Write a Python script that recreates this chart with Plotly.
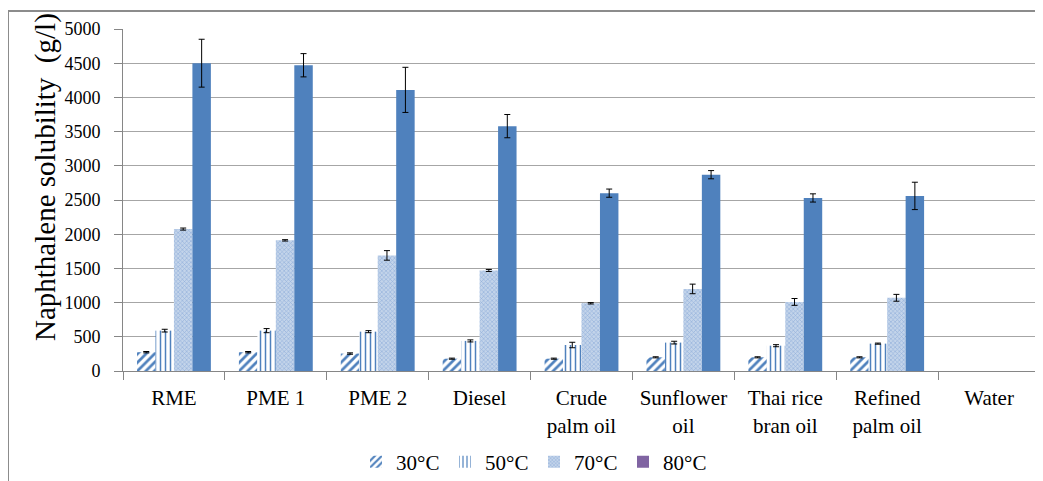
import plotly.graph_objects as go

categories = ["RME", "PME 1", "PME 2", "Diesel", "Crude<br>palm oil", "Sunflower<br>oil",
              "Thai rice<br>bran oil", "Refined<br>palm oil", "Water"]
series_names = ["30°C", "50°C", "70°C", "80°C"]
y_title = "Naphthalene solubility  (g/l)"

# Water: no visible bars in the reference (no data / zero)
s30 = [275, 275, 255, 180, 180, 200, 200, 200, None]
s50 = [590, 590, 575, 440, 380, 415, 370, 400, None]
s70 = [2075, 1910, 1690, 1470, 990, 1200, 1010, 1070, None]
s80 = [4500, 4470, 4110, 3580, 2600, 2870, 2530, 2560, None]

e30 = [10, 10, 10, 8, 8, 8, 8, 8, None]
e50 = [20, 30, 15, 15, 40, 20, 15, 8, None]
e70 = [15, 10, 70, 15, 10, 70, 50, 50, None]
e80 = [350, 170, 330, 170, 60, 60, 60, 200, None]

BLUE = "#4F81BD"
FONT = "Liberation Serif, Times New Roman, DejaVu Serif, serif"

fig = go.Figure()

def err(vals):
    return dict(type="data", array=vals, visible=True, color="black", thickness=1, width=3)

fig.add_trace(go.Bar(x=categories, y=s30, name=series_names[0], offsetgroup="g1",
                     error_y=err(e30),
                     marker=dict(color="white", line=dict(width=0),
                                 pattern=dict(shape="/", fgcolor=BLUE, bgcolor="white",
                                              size=6, solidity=0.45, fillmode="replace"))))
fig.add_trace(go.Bar(x=categories, y=s50, name=series_names[1], offsetgroup="g2",
                     error_y=err(e50),
                     marker=dict(color="white", line=dict(width=0),
                                 pattern=dict(shape="|", fgcolor=BLUE, bgcolor="white",
                                              size=5, solidity=0.3, fillmode="replace"))))
fig.add_trace(go.Bar(x=categories, y=s70, name=series_names[2], offsetgroup="g3",
                     error_y=err(e70),
                     marker=dict(color="#B9CDE5", line=dict(width=0),
                                 pattern=dict(shape="x", fgcolor="#8FAEDA", bgcolor="#C3D4EA",
                                              size=3, solidity=0.35, fillmode="replace"))))
fig.add_trace(go.Bar(x=categories, y=s80, name=series_names[3], offsetgroup="g4",
                     error_y=err(e80), showlegend=False,
                     marker=dict(color=BLUE, line=dict(width=0))))
# legend-only entry (legend swatch is purple in the reference)
fig.add_trace(go.Bar(x=[categories[0]], y=[None], name=series_names[3], offsetgroup="g4",
                     marker=dict(color="#8064A2", line=dict(width=0))))

OFF = 8  # page body margin
W, H = 1043, 481
L = 123 - OFF
T = 29 - OFF
R = W - (1040 - OFF)
B = H - (371 - OFF)
pw = W - L - R
ph = H - T - B

def px(x):
    return (x - OFF - L) / pw

def py(y):
    return (H - B - (y - OFF)) / ph

fig.update_layout(
    width=W, height=H,
    margin=dict(l=L, r=R, t=T, b=B, pad=0, autoexpand=False),
    paper_bgcolor="white", plot_bgcolor="white",
    barmode="group", bargap=0.275, bargroupgap=0,
    font=dict(family=FONT, color="black"),
    showlegend=True,
    legend=dict(orientation="h", x=px(534), xanchor="center", y=py(462), yanchor="middle",
                font=dict(family=FONT, size=21, color="black"), traceorder="normal",
                itemwidth=30, entrywidth=44, entrywidthmode="pixels",
                bgcolor="rgba(0,0,0,0)"),
    xaxis=dict(type="category", tickson="boundaries", ticks="outside", ticklen=8,
               tickcolor="#868686", showline=True, linecolor="#868686", linewidth=1,
               showgrid=False, ticklabelstandoff=8, automargin=False,
               tickfont=dict(family=FONT, size=21, color="black")),
    yaxis=dict(range=[0, 5000], dtick=500, ticks="outside", ticklen=8, tickcolor="#868686",
               showline=True, linecolor="#868686", linewidth=1,
               showgrid=True, gridcolor="#A6A6A6", gridwidth=1, zeroline=False,
               ticklabelstandoff=10, automargin=False,
               tickfont=dict(family=FONT, size=18, color="black")),
    annotations=[
        dict(text=y_title, textangle=-90, xref="paper", yref="paper",
             x=px(45), y=py(177), xanchor="center", yanchor="middle", showarrow=False,
             font=dict(family=FONT, size=29, color="black")),
    ],
    shapes=[
        dict(type="line", xref="paper", yref="paper", x0=px(8), x1=px(1060), y0=py(11), y1=py(11),
             line=dict(color="#8C8C8C", width=2)),
        dict(type="line", xref="paper", yref="paper", x0=px(8), x1=px(8), y0=py(11), y1=py(500),
             line=dict(color="#8C8C8C", width=2)),
    ],
)

fig.write_html("out.html")
